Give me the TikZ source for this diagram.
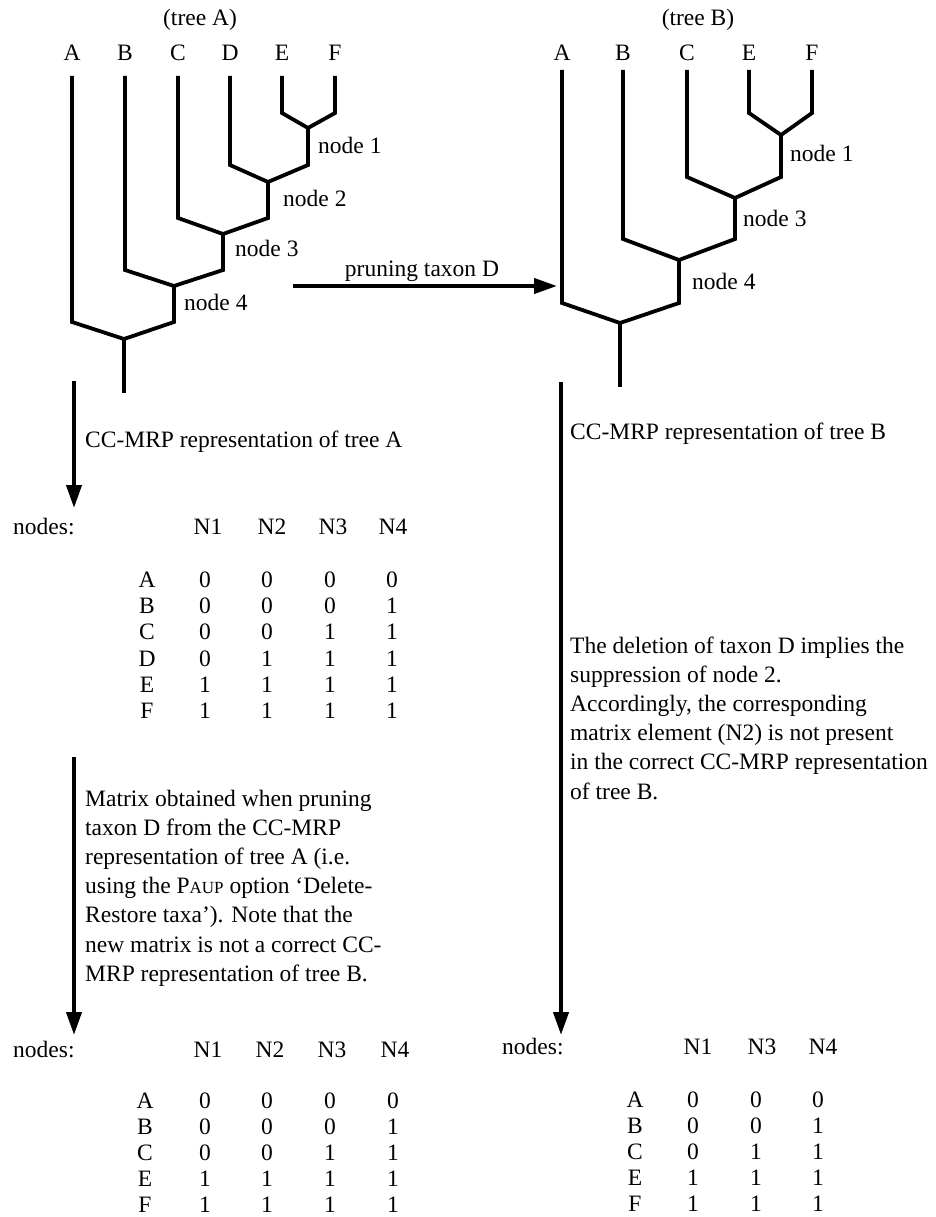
\documentclass[tikz,border=0pt]{standalone}
\usepackage{fontspec}
\setmainfont{Liberation Serif}
\usetikzlibrary{arrows.meta}

\begin{document}
\begin{tikzpicture}[x=1pt,y=-1pt,
	branch/.style={black, line width=3.8pt, line join=miter},
	arr/.style={black, line width=4pt, -{Triangle[length=23pt,width=15pt]}},
	txt/.style={inner sep=0pt, font=\fontsize{23.5}{29.2}\selectfont},
	lefttxt/.style={txt, anchor=west, align=left}]
	\useasboundingbox (0,0) rectangle (936,1217);
	% tree A
	\node[txt] (tA) at (200,20) {(tree A)};
	\node[txt] (tAa) at (72,53) {A};
	\node[txt] (tAb) at (125,53) {B};
	\node[txt] (tAc) at (178,53) {C};
	\node[txt] (tAd) at (230,53) {D};
	\node[txt] (tAe) at (282,53) {E};
	\node[txt] (tAf) at (335,53) {F};
	\coordinate (Aa) at (72,76);   \coordinate (Ab) at (72,322);
	\coordinate (Ba) at (125,76);  \coordinate (Bb) at (125,270);
	\coordinate (Ca) at (178,76);  \coordinate (Cb) at (178,218);
	\coordinate (Da) at (230,76);  \coordinate (Db) at (230,165);
	\coordinate (Ea) at (282,76);  \coordinate (Eb) at (282,113);
	\coordinate (Fa) at (335,76);  \coordinate (Fb) at (335,113);
	\coordinate (nA1) at (308,128); \coordinate (nA1b) at (308,165);
	\coordinate (nA2) at (268,182); \coordinate (nA2b) at (268,218);
	\coordinate (nA3) at (223,234); \coordinate (nA3b) at (223,270);
	\coordinate (nA4) at (174,286); \coordinate (nA4b) at (174,322);
	\coordinate (rA) at (124,339);  \coordinate (rAb) at (124,393);
	\draw [branch] (Ea) -- (Eb) -- (nA1) -- (Fb) -- (Fa);
	\draw [branch] (Da) -- (Db) -- (nA2) -- (nA1b) -- (nA1);
	\draw [branch] (Ca) -- (Cb) -- (nA3) -- (nA2b) -- (nA2);
	\draw [branch] (Ba) -- (Bb) -- (nA4) -- (nA3b) -- (nA3);
	\draw [branch] (Aa) -- (Ab) -- (rA) -- (nA4b) -- (nA4);
	\draw [branch] (rA) -- (rAb);
	\node[txt, anchor=west] (lA1) at (318,145) {node 1};
	\node[txt, anchor=west] (lA2) at (283,198) {node 2};
	\node[txt, anchor=west] (lA3) at (235,248) {node 3};
	\node[txt, anchor=west] (lA4) at (184,302) {node 4};
	% tree B
	\node[txt] (tB) at (698,20) {(tree B)};
	\node[txt] (tBa) at (562,53) {A};
	\node[txt] (tBb) at (623,53) {B};
	\node[txt] (tBc) at (687,53) {C};
	\node[txt] (tBe) at (749,53) {E};
	\node[txt] (tBf) at (812,53) {F};
	\coordinate (Ba') at (562,70); \coordinate (Bb') at (562,303);
	\coordinate (Bc') at (623,70); \coordinate (Bd') at (623,239);
	\coordinate (Be') at (687,70); \coordinate (Bf') at (687,177);
	\coordinate (Bg') at (749,70); \coordinate (Bh') at (749,113);
	\coordinate (Bi') at (812,70); \coordinate (Bj') at (812,113);
	\coordinate (nB1) at (781,135); \coordinate (nB1b) at (781,177);
	\coordinate (nB3) at (735,198); \coordinate (nB3b) at (735,239);
	\coordinate (nB4) at (679,260); \coordinate (nB4b) at (679,303);
	\coordinate (rB) at (620,323);  \coordinate (rBb) at (620,387);
	\draw [branch] (Bg') -- (Bh') -- (nB1) -- (Bj') -- (Bi');
	\draw [branch] (Be') -- (Bf') -- (nB3) -- (nB1b) -- (nB1);
	\draw [branch] (Bc') -- (Bd') -- (nB4) -- (nB3b) -- (nB3);
	\draw [branch] (Ba') -- (Bb') -- (rB) -- (nB4b) -- (nB4);
	\draw [branch] (rB) -- (rBb);
	\node[txt, anchor=west] (lB1) at (790,153) {node 1};
	\node[txt, anchor=west] (lB3) at (743,218) {node 3};
	\node[txt, anchor=west] (lB4) at (692,281) {node 4};
	% arrows
	\coordinate (pS) at (293,286); \coordinate (pE) at (557,286);
	\draw [arr] (pS) -- (pE);
	\node[txt] (prune) at (422,271) {pruning taxon D};
	\coordinate (a1S) at (74,381);  \coordinate (a1E) at (74,508);
	\coordinate (a2S) at (74,757);  \coordinate (a2E) at (74,1035);
	\coordinate (a3S) at (561,382); \coordinate (a3E) at (561,1035);
	\draw [arr] (a1S) -- (a1E);
	\draw [arr] (a2S) -- (a2E);
	\draw [arr] (a3S) -- (a3E);
	\node[lefttxt] (repA) at (85,442) {CC-MRP representation of tree A};
	\node[lefttxt] (repB) at (570,434) {CC-MRP representation of tree B};
	\node[lefttxt] (noteA) at (85,888) {Matrix obtained when pruning\\
		taxon D from the CC-MRP\\
		representation of tree A (i.e.\\
		using the P{\fontsize{17}{17}\selectfont AUP} option `Delete-\\
		Restore taxa'). Note that the\\
		new matrix is not a correct CC-\\
		MRP representation of tree B.};
	\node[lefttxt] (noteB) at (570,718) {The deletion of taxon D implies the\\
		suppression of node 2.\\
		Accordingly, the corresponding\\
		matrix element (N2) is not present\\
		in the correct CC-MRP representation\\
		of tree B.};
	% matrix of tree A
	\node[lefttxt] (hA) at (13,527) {nodes:};
	\node[txt] (hA1) at (208,527) {N1}; \node[txt] (hA2) at (272,527) {N2};
	\node[txt] (hA3) at (333,527) {N3}; \node[txt] (hA4) at (393,527) {N4};
	\node[txt] (mAa) at (147,580) {A}; \node[txt] (mAa1) at (205,580) {0}; \node[txt] (mAa2) at (267,580) {0}; \node[txt] (mAa3) at (330,580) {0}; \node[txt] (mAa4) at (392,580) {0};
	\node[txt] (mAb) at (147,606) {B}; \node[txt] (mAb1) at (205,606) {0}; \node[txt] (mAb2) at (267,606) {0}; \node[txt] (mAb3) at (330,606) {0}; \node[txt] (mAb4) at (392,606) {1};
	\node[txt] (mAc) at (147,632) {C}; \node[txt] (mAc1) at (205,632) {0}; \node[txt] (mAc2) at (267,632) {0}; \node[txt] (mAc3) at (330,632) {1}; \node[txt] (mAc4) at (392,632) {1};
	\node[txt] (mAd) at (147,659) {D}; \node[txt] (mAd1) at (205,659) {0}; \node[txt] (mAd2) at (267,659) {1}; \node[txt] (mAd3) at (330,659) {1}; \node[txt] (mAd4) at (392,659) {1};
	\node[txt] (mAe) at (147,685) {E}; \node[txt] (mAe1) at (205,685) {1}; \node[txt] (mAe2) at (267,685) {1}; \node[txt] (mAe3) at (330,685) {1}; \node[txt] (mAe4) at (392,685) {1};
	\node[txt] (mAf) at (147,711) {F}; \node[txt] (mAf1) at (205,711) {1}; \node[txt] (mAf2) at (267,711) {1}; \node[txt] (mAf3) at (330,711) {1}; \node[txt] (mAf4) at (392,711) {1};
	% pruned matrix
	\node[lefttxt] (hP) at (13,1050) {nodes:};
	\node[txt] (hP1) at (208,1050) {N1}; \node[txt] (hP2) at (270,1050) {N2};
	\node[txt] (hP3) at (332,1050) {N3}; \node[txt] (hP4) at (395,1050) {N4};
	\node[txt] (mPa) at (145,1101) {A}; \node[txt] (mPa1) at (205,1101) {0}; \node[txt] (mPa2) at (267,1101) {0}; \node[txt] (mPa3) at (330,1101) {0}; \node[txt] (mPa4) at (393,1101) {0};
	\node[txt] (mPb) at (145,1127) {B}; \node[txt] (mPb1) at (205,1127) {0}; \node[txt] (mPb2) at (267,1127) {0}; \node[txt] (mPb3) at (330,1127) {0}; \node[txt] (mPb4) at (393,1127) {1};
	\node[txt] (mPc) at (145,1153) {C}; \node[txt] (mPc1) at (205,1153) {0}; \node[txt] (mPc2) at (267,1153) {0}; \node[txt] (mPc3) at (330,1153) {1}; \node[txt] (mPc4) at (393,1153) {1};
	\node[txt] (mPe) at (145,1179) {E}; \node[txt] (mPe1) at (205,1179) {1}; \node[txt] (mPe2) at (267,1179) {1}; \node[txt] (mPe3) at (330,1179) {1}; \node[txt] (mPe4) at (393,1179) {1};
	\node[txt] (mPf) at (145,1205) {F}; \node[txt] (mPf1) at (205,1205) {1}; \node[txt] (mPf2) at (267,1205) {1}; \node[txt] (mPf3) at (330,1205) {1}; \node[txt] (mPf4) at (393,1205) {1};
	% matrix of tree B
	\node[lefttxt] (hB) at (502,1047) {nodes:};
	\node[txt] (hB1) at (698,1047) {N1}; \node[txt] (hB3) at (762,1047) {N3}; \node[txt] (hB4) at (823,1047) {N4};
	\node[txt] (mBa) at (635,1100) {A}; \node[txt] (mBa1) at (693,1100) {0}; \node[txt] (mBa3) at (756,1100) {0}; \node[txt] (mBa4) at (818,1100) {0};
	\node[txt] (mBb) at (635,1126) {B}; \node[txt] (mBb1) at (693,1126) {0}; \node[txt] (mBb3) at (756,1126) {0}; \node[txt] (mBb4) at (818,1126) {1};
	\node[txt] (mBc) at (635,1152) {C}; \node[txt] (mBc1) at (693,1152) {0}; \node[txt] (mBc3) at (756,1152) {1}; \node[txt] (mBc4) at (818,1152) {1};
	\node[txt] (mBe) at (635,1178) {E}; \node[txt] (mBe1) at (693,1178) {1}; \node[txt] (mBe3) at (756,1178) {1}; \node[txt] (mBe4) at (818,1178) {1};
	\node[txt] (mBf) at (635,1204) {F}; \node[txt] (mBf1) at (693,1204) {1}; \node[txt] (mBf3) at (756,1204) {1}; \node[txt] (mBf4) at (818,1204) {1};
\end{tikzpicture}
\end{document}
